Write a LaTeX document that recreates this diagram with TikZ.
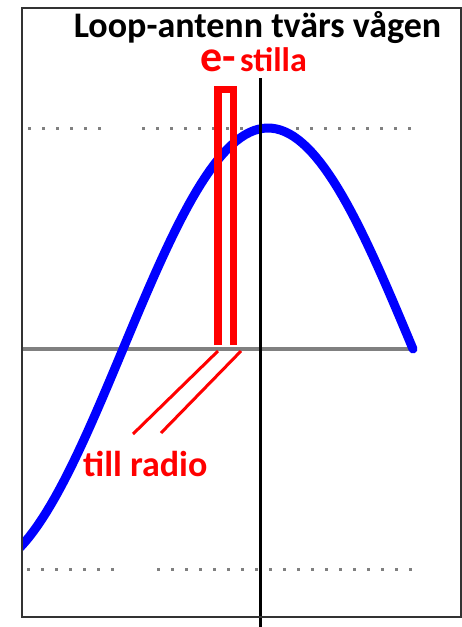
\documentclass[tikz,border=0pt]{standalone}
\usepackage{fontspec}
\setmainfont{Carlito}
\usetikzlibrary{positioning}

\begin{document}
\begin{tikzpicture}[x=1pt, y=-1pt]
  \tikzset{
    frame/.style={draw=black!80, line width=2pt},
    dots/.style={draw=gray, line width=3pt, dash pattern=on 3pt off 11pt},
    axis/.style={draw=gray, line width=3.5pt},
    wave/.style={draw=blue, line width=9pt, line cap=round},
    loop/.style={draw=red, line width=7.5pt},
    wire/.style={draw=red, line width=3pt},
    mast/.style={draw=black, line width=3pt},
    lbl/.style={inner sep=0pt, font=\fontsize{36}{40}\selectfont\bfseries}
  }
  \useasboundingbox (0,0) rectangle (462,627);

  % frame corners
  \coordinate (TL) at (22,8);
  \coordinate (BR) at (461,617);

  % dotted levels (top and bottom of the wave)
  \draw[dots] (28,128) -- (102,128);
  \draw[dots] (142,128) -- (415,128);
  \draw[dots] (27,569) -- (117,569);
  \draw[dots] (157,569) -- (415,569);

  % zero line
  \coordinate (A0) at (22,349);
  \coordinate (A1) at (413,349);
  \draw[axis] (A0) -- (A1);

  % the wave
  \begin{scope}
    \clip (TL) rectangle (BR);
    \draw[wave] plot[domain=20:413, samples=90] (\x, {349-221*sin((\x-123)/145*90)});
  \end{scope}

  % loop antenna (open at the bottom)
  \coordinate (L1) at (218,345);   % left leg, bottom
  \coordinate (L2) at (218,89.5);  % left leg, top
  \coordinate (R2) at (233.5,89.5);% right leg, top
  \coordinate (R1) at (233.5,345); % right leg, bottom
  \draw[loop] (L1) -- (L2) -- (R2) -- (R1);

  % leads to the radio
  \coordinate (W1) at (218,351);
  \coordinate (W1e) at (133,434);
  \coordinate (W2) at (241,351);
  \coordinate (W2e) at (161,433);
  \draw[wire] (W1) -- (W1e);
  \draw[wire] (W2) -- (W2e);

  % vertical line through the crest
  \coordinate (M0) at (260,78);
  \coordinate (M1) at (260,627);
  \draw[mast] (M0) -- (M1);

  % labels
  \node[lbl, anchor=base] (title) at (257.5,37) {Loop-antenn tvärs vågen};
  \node[inner sep=0pt, anchor=base west, text=red, text height=0.5em,
        font=\fontsize{44}{48}\selectfont\bfseries] (eminus) at (200,71) {e-};
  \node[lbl, text=red, font=\fontsize{34}{38}\selectfont\bfseries,
        base right=4pt of eminus] (stilla) {stilla};
  \node[lbl, text=red, anchor=base west] (radio) at (83,476) {till radio};

  \draw[frame] (TL) rectangle (BR);
\end{tikzpicture}
\end{document}
